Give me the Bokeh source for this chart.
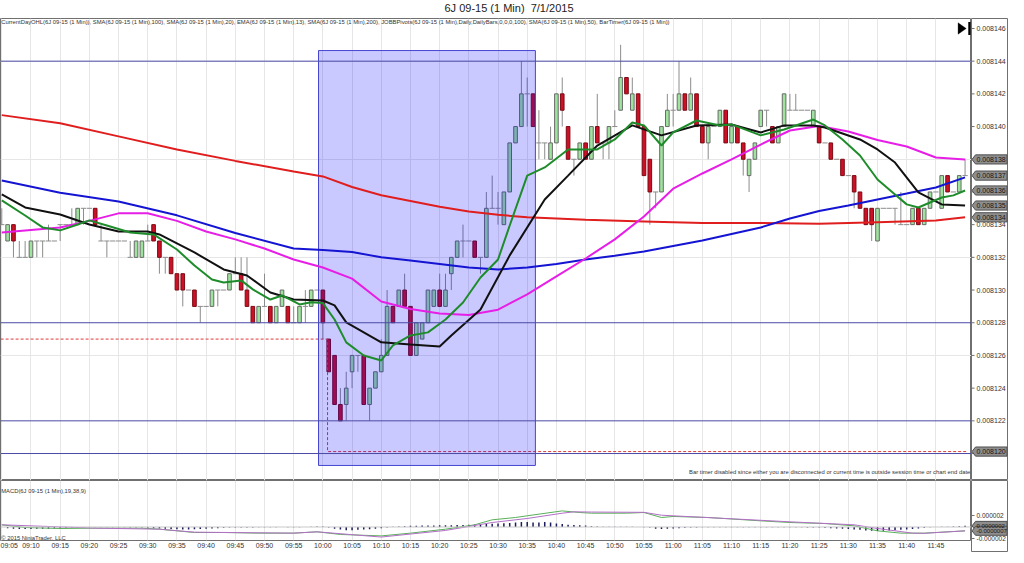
from bokeh.plotting import figure
from bokeh.models import (Range1d, FixedTicker, Label, PolyAnnotation, BoxAnnotation, Span, Div)
from bokeh.layouts import column, row
from bokeh.embed import file_html
from bokeh.resources import INLINE
from bokeh.core.properties import value

FONT = "Liberation Sans"

# ---------------------------------------------------------------- data
# prices are 0.0081xx; values below are in units of 0.000001 above BASE
BASE = 0.0081
UNIT = 1e-6

time_labels = ["09:05", "09:10", "09:15", "09:20", "09:25", "09:30", "09:35", "09:40",
               "09:45", "09:50", "09:55", "10:00", "10:05", "10:10", "10:15", "10:20",
               "10:25", "10:30", "10:35", "10:40", "10:45", "10:50", "10:55", "11:00",
               "11:05", "11:10", "11:15", "11:20", "11:25", "11:30", "11:35", "11:40", "11:45"]

open_u = [34, 33, 34, 32, 32, 32, 33, 33, 33, 33,
          34, 34, 34, 34, 35, 35, 35, 33, 33, 33,
          33, 33, 32, 32, 32, 33, 34, 33, 32, 32,
          31, 31, 30, 30, 29, 29, 29, 30, 30, 30,
          31, 31, 30, 29, 28, 29, 29, 28, 29, 29,
          28, 28, 29, 29, 30, 30, 27, 26, 23, 23,
          25, 26, 26, 23, 24, 25, 26, 29, 29, 30,
          29, 26, 27, 28, 29, 30, 29, 31, 32, 33,
          33, 33, 32, 32, 35, 35, 34, 36, 39, 40,
          42, 42, 39, 39, 38, 39, 42, 40, 38, 38,
          39, 38, 40, 39, 39, 40, 41, 43, 41, 42,
          40, 38, 36, 36, 40, 41, 41, 42, 41, 42,
          40, 39, 40, 40, 41, 39, 40, 39, 37, 38,
          40, 41, 40, 39, 40, 41, 41, 41, 41, 40,
          40, 39, 39, 38, 38, 37, 37, 36, 35, 35,
          33, 35, 35, 35, 34, 34, 34, 35, 34, 35,
          36, 35, 37, 36, 36, 37]
high_u = [35, 34, 34, 33, 33, 33, 33, 33, 34, 33,
          34, 34, 35, 35, 35, 35, 35, 34, 33, 33,
          33, 33, 33, 33, 33, 34, 34, 33, 32, 32,
          31, 31, 30, 30, 29, 29, 30, 30, 30, 31,
          32, 32, 32, 29, 29, 31, 29, 29, 30, 29,
          29, 29, 30, 30, 30, 30, 27, 26, 24, 25,
          26, 26, 26, 24, 25, 27, 30, 29, 30, 31,
          29, 28, 28, 30, 30, 31, 31, 32, 33, 34,
          33, 33, 32, 36, 37, 36, 36, 39, 40, 44,
          43, 42, 41, 39, 40, 42, 43, 40, 38, 39,
          39, 40, 42, 39, 40, 41, 45, 43, 43, 42,
          40, 38, 36, 40, 42, 42, 44, 42, 43, 42,
          40, 40, 40, 41, 41, 40, 40, 39, 38, 39,
          41, 41, 40, 40, 42, 42, 42, 41, 41, 41,
          40, 39, 39, 38, 38, 37, 37, 36, 35, 35,
          35, 35, 35, 35, 36, 34, 35, 35, 35, 36,
          36, 37, 37, 36, 37, 38]
low_u = [34, 33, 32, 32, 32, 32, 32, 32, 33, 33,
         33, 34, 34, 34, 34, 35, 34, 33, 32, 33,
         33, 33, 32, 32, 32, 33, 33, 31, 31, 31,
         30, 29, 30, 29, 28, 29, 29, 29, 30, 30,
         31, 30, 29, 28, 28, 29, 28, 28, 29, 28,
         28, 28, 28, 29, 30, 27, 25, 23, 22, 22,
         24, 25, 23, 22, 24, 25, 26, 28, 29, 29,
         26, 26, 27, 28, 29, 29, 29, 30, 32, 32,
         33, 32, 31, 32, 35, 34, 34, 36, 39, 40,
         40, 40, 38, 38, 38, 39, 40, 38, 37, 38,
         38, 38, 39, 38, 38, 40, 41, 42, 41, 40,
         37, 34, 35, 36, 40, 40, 41, 41, 41, 40,
         39, 38, 40, 40, 39, 39, 39, 37, 36, 38,
         40, 40, 39, 39, 40, 41, 41, 41, 41, 40,
         39, 39, 38, 38, 37, 37, 35, 35, 34, 33,
         33, 35, 35, 34, 34, 34, 34, 34, 34, 35,
         36, 35, 36, 36, 36, 37]
close_u = [34, 34, 33, 32, 32, 33, 33, 33, 33, 33,
           34, 34, 34, 35, 35, 35, 34, 33, 33, 33,
           33, 33, 32, 33, 33, 33, 33, 32, 32, 31,
           30, 30, 30, 29, 29, 29, 30, 30, 30, 31,
           31, 30, 29, 28, 29, 29, 28, 29, 30, 28,
           28, 29, 29, 30, 30, 28, 25, 23, 22, 24,
           26, 26, 23, 24, 25, 26, 29, 28, 30, 29,
           26, 28, 28, 30, 30, 29, 30, 32, 33, 33,
           33, 32, 32, 35, 35, 35, 36, 39, 40, 42,
           42, 40, 39, 39, 39, 42, 41, 38, 38, 39,
           38, 40, 39, 39, 40, 40, 43, 42, 42, 40,
           37, 36, 36, 40, 41, 41, 42, 41, 42, 40,
           39, 40, 40, 41, 39, 40, 39, 38, 38, 39,
           41, 41, 39, 40, 42, 41, 41, 41, 41, 41,
           39, 39, 38, 38, 37, 37, 36, 35, 34, 34,
           35, 35, 35, 35, 34, 34, 35, 34, 35, 36,
           36, 37, 36, 36, 37, 37]

# moving averages (bar index, level)
sma200_x = [0, 10, 20, 30, 40, 50, 55, 60, 65, 70, 75, 80, 85, 90, 100, 110, 120, 130, 140, 150, 160, 165]
sma200_u = [40.7, 40.2, 39.4, 38.6, 37.9, 37.25, 36.95, 36.3, 35.8, 35.45, 35.1, 34.8, 34.6, 34.45,
            34.3, 34.2, 34.1, 34.1, 34.05, 34.15, 34.25, 34.45]
sma100_x = [0, 10, 20, 30, 40, 50, 55, 60, 65, 70, 75, 80, 85, 90, 95, 100, 105, 110, 115, 120,
            125, 130, 135, 140, 145, 150, 155, 160, 165]
sma100_u = [36.7, 35.95, 35.42, 34.57, 33.49, 32.54, 32.45, 32.33, 32.0, 31.8, 31.6, 31.38, 31.26,
            31.38, 31.6, 31.87, 32.1, 32.36, 32.7, 33.03, 33.43, 33.83, 34.38, 34.84, 35.17, 35.54,
            35.9, 36.27, 36.89]
sma50_x = [0, 5, 10, 15, 20, 25, 30, 35, 40, 45, 50, 55, 60, 65, 70, 75, 80, 85, 90, 95, 100,
           105, 110, 115, 120, 125, 130, 135, 140, 145, 150, 155, 160, 165]
sma50_u = [33.52, 33.68, 33.83, 34.23, 34.69, 34.70, 34.23, 33.58, 33.1, 32.54, 31.87, 31.38, 30.7,
           29.3, 28.84, 28.57, 28.48, 28.8, 29.73, 30.83, 31.93, 33.1, 34.5, 36.2, 37.13, 37.99,
           38.9, 39.76, 40.04, 39.7, 39.18, 38.78, 38.11, 37.99]
sma20_x = [0, 4, 10, 15, 20, 25, 27, 33, 38, 42, 46, 50, 55, 57, 59, 65, 70, 75, 77, 82, 87, 93,
           97, 102, 108, 113, 119, 125, 130, 134, 139, 141, 147, 150, 153, 157, 161, 165]
sma20_u = [35.85, 35.05, 34.62, 34.01, 33.58, 33.58, 33.4, 32.3, 31.26, 30.89, 29.85, 29.42, 29.36,
           29.06, 28.02, 26.8, 26.67, 26.55, 27.22, 28.81, 32.12, 35.54, 37.0, 38.84, 40.07, 39.46,
           40.07, 40.13, 39.64, 40.07, 40.07, 39.94, 39.21, 38.6, 37.8, 35.97, 35.24, 35.17]
ema13_x = [0, 4, 7, 10, 13, 15, 18, 22, 26, 30, 33, 36, 38, 41, 43, 46, 48, 51, 53, 55, 57, 59,
           62, 65, 67, 70, 73, 76, 79, 82, 85, 87, 90, 93, 97, 102, 105, 108, 110, 113, 115, 119,
           123, 125, 130, 134, 139, 141, 144, 147, 150, 153, 155, 157, 161, 163, 165]
ema13_u = [35.48, 34.56, 33.83, 33.65, 34.01, 34.26, 33.95, 33.52, 33.4, 32.48, 31.5, 30.64, 30.46,
           30.59, 30.04, 29.42, 29.67, 29.12, 29.25, 29.2, 28.2, 26.8, 26.0, 25.69, 26.61, 27.22,
           27.41, 28.2, 29.24, 30.77, 31.87, 33.95, 37.0, 37.5, 38.6, 38.6, 39.21, 40.25, 40.07,
           38.84, 39.64, 40.37, 40.07, 40.13, 39.46, 39.82, 40.43, 40.07, 39.21, 38.23, 36.76,
           35.85, 35.24, 35.05, 35.66, 35.79, 36.09]

# JOBB pivot levels and current-day low (CurrentDayOHL)
pivot_u = [44, 28, 22, 20]
daylow_x = [-0.2, 55.8, 55.8, 165.5]
daylow_u = [27.0, 27.0, 20.12, 20.12]

# drawn rectangle (bar index / level)
rect_x = [54.25, 91.4]
rect_u = [19.27, 44.65]

# MACD(19,38,9) in units of 0.000001
macd_x = [0, 4, 10, 16, 24, 27, 33, 38, 44, 50, 54, 58, 65, 70, 76, 81, 84, 88, 90, 96, 99, 101,
          107, 110, 113, 115, 121, 130, 135, 141, 146, 150, 154, 158, 165]
macd_v = [0.38, -0.09, -0.26, -0.2, -0.2, -0.38, -0.96, -0.96, -1.07, -1.07, -0.84, -1.3, -1.55,
          -1.07, -0.38, 0.38, 1.25, 1.65, 1.95, 2.8, 2.52, 2.4, 2.4, 2.52, 1.65, 1.83, 1.65, 1.07,
          0.78, 0.6, 0.2, -0.67, -1.07, -1.07, -0.67]
signal_x = [0, 16, 27, 33, 50, 54, 65, 76, 84, 90, 96, 98, 101, 110, 113, 124, 135, 146, 150, 156, 158, 165]
signal_v = [0.38, -0.2, -0.38, -0.9, -1.07, -0.84, -1.75, -0.6, 0.78, 1.48, 2.4, 2.64, 2.6, 2.55,
            2.05, 1.48, 0.9, 0.38, -0.26, -1.07, -1.1, -0.67]
hist_v = [0.0, -0.2, -0.3, -0.35, -0.35, -0.35, -0.3, -0.3, -0.3, -0.25,
          -0.25, -0.2, -0.15, -0.1, -0.1, -0.05, -0.05, -0.05, -0.05, -0.05,
          -0.05, -0.05, -0.1, -0.1, -0.1, -0.15, -0.2, -0.25, -0.3, -0.35,
          -0.4, -0.45, -0.45, -0.4, -0.35, -0.3, -0.25, -0.2, -0.15, -0.1,
          -0.1, -0.1, -0.1, -0.1, -0.05, -0.05, -0.05, -0.05, 0.0, -0.05,
          -0.05, -0.05, 0.0, 0.05, 0.1, 0.1, -0.1, -0.3, -0.45, -0.55,
          -0.55, -0.5, -0.45, -0.4, -0.3, -0.2, -0.1, 0.05, 0.1, 0.15,
          0.2, 0.2, 0.25, 0.25, 0.25, 0.3, 0.3, 0.3, 0.35, 0.35,
          0.4, 0.45, 0.45, 0.55, 0.55, 0.6, 0.65, 0.7, 0.8, 0.85,
          0.85, 0.8, 0.8, 0.85, 0.8, 0.6, 0.5, 0.4, 0.35, 0.3,
          0.25, 0.15, 0.1, 0.05, 0.05, 0.05, 0.05, 0.05, 0.05, 0.0,
          -0.05, -0.1, -0.3, -0.35, -0.3, -0.25, -0.2, -0.15, -0.1, -0.1,
          -0.05, -0.05, -0.05, -0.05, -0.05, -0.05, -0.05, -0.05, -0.05, -0.05,
          -0.05, -0.05, -0.05, -0.05, -0.05, -0.05, -0.05, -0.05, -0.1, -0.1,
          -0.1, -0.15, -0.2, -0.25, -0.3, -0.35, -0.45, -0.5, -0.6, -0.65,
          -0.7, -0.65, -0.6, -0.55, -0.5, -0.45, -0.35, -0.25, -0.15, -0.05,
          0.0, 0.05, 0.05, 0.1, 0.15, 0.2]
hist_tag = 0.2

price_ticks_u = [20, 22, 24, 26, 28, 30, 32, 34, 36, 38, 40, 42, 44, 46]
macd_ticks = [2, -2]

title_text = "6J 09-15 (1 Min)&nbsp;&nbsp;7/1/2015"
indicator_text = ("CurrentDayOHL(6J 09-15 (1 Min)), SMA(6J 09-15 (1 Min),100), SMA(6J 09-15 (1 Min),20), "
                  "EMA(6J 09-15 (1 Min),13), SMA(6J 09-15 (1 Min),200), JOBBPivots(6J 09-15 (1 Min),Daily,"
                  "DailyBars,0,0,0,100), SMA(6J 09-15 (1 Min),50), BarTimer(6J 09-15 (1 Min))")
timer_text = ("Bar timer disabled since either you are disconnected or current time is outside "
              "session time or chart end date")


def P(v):
    return BASE + v * UNIT


def M(v):
    return v * UNIT


# ---------------------------------------------------------------- layout constants
FW = 971          # width of the chart frames
AW = 37           # width of the price-axis strip
FH_MAIN = 462
FH_MACD = 60
BOTTOM = 12
xr = Range1d(-0.22, 166.1)
tick_pos = [5 * k for k in range(len(time_labels))]
GRID = "#e6e6e6"
FRAME = "#707070"
TXT = "#333333"
TAG_FILL = "#8e8e8e"

title = Div(text=title_text, width=FW + AW, height=7,
            styles={"text-align": "center", "font-size": "11px", "font-family": FONT,
                    "line-height": "7px", "color": "#222222", "overflow": "visible"})

# ---------------------------------------------------------------- price panel
yr_main = Range1d(P(18.35), P(46.61))
pa = figure(frame_width=FW, frame_height=FH_MAIN, x_range=xr, y_range=yr_main,
            output_backend="svg", toolbar_location=None,
            y_axis_location=None, x_axis_location=None,
            min_border_left=0, min_border_right=0, min_border_top=1, min_border_bottom=0)
pa.outline_line_color = FRAME
pa.xgrid.ticker = FixedTicker(ticks=tick_pos)
pa.xgrid.grid_line_color = GRID
pa.ygrid.ticker = FixedTicker(ticks=[P(v) for v in (20, 26, 32, 38, 44)])
pa.ygrid.grid_line_color = GRID

for v in pivot_u:
    pa.add_layout(Span(location=P(v), dimension="width", line_color="#4b4ba6", line_width=1))

n = len(open_u)
idx = list(range(n))
wk = [i for i in idx if high_u[i] > low_u[i]]
pa.segment(x0=wk, y0=[P(low_u[i]) for i in wk], x1=wk, y1=[P(high_u[i]) for i in wk],
           line_color="#8c8c8c", line_width=1)
up = [i for i in idx if close_u[i] > open_u[i]]
pa.vbar(x=up, width=0.62, bottom=[P(open_u[i]) for i in up], top=[P(close_u[i]) for i in up],
        fill_color="#9ee39e", line_color="#6a6a6a", line_width=1)
dn = [i for i in idx if close_u[i] < open_u[i]]
pa.vbar(x=dn, width=0.62, top=[P(open_u[i]) for i in dn], bottom=[P(close_u[i]) for i in dn],
        fill_color="#cc1025", line_color="#7a0a14", line_width=1)
dj = [i for i in idx if close_u[i] == open_u[i]]
pa.segment(x0=[i - 0.45 for i in dj], y0=[P(close_u[i]) for i in dj],
           x1=[i + 0.45 for i in dj], y1=[P(close_u[i]) for i in dj],
           line_color="#8c8c8c", line_width=1)

pa.line(daylow_x, [P(v) for v in daylow_u], line_color="#e03a3a", line_width=1, line_dash="3 2")

pa.quad(left=[rect_x[0]], right=[rect_x[1]], bottom=[P(rect_u[0])], top=[P(rect_u[1])],
        fill_color="#0000ff", fill_alpha=0.21, line_color="#4646d2", line_width=1)

pa.line(sma200_x, [P(v) for v in sma200_u], line_color="#e01e1e", line_width=2)
pa.line(sma100_x, [P(v) for v in sma100_u], line_color="#1414d2", line_width=2)
pa.line(sma50_x, [P(v) for v in sma50_u], line_color="#e61ee6", line_width=2)
pa.line(sma20_x, [P(v) for v in sma20_u], line_color="#111111", line_width=2)
pa.line(ema13_x, [P(v) for v in ema13_u], line_color="#1e8c2a", line_width=2)

pa.add_layout(Label(x=-0.1, y=P(46.37), text=indicator_text, text_font=FONT,
                    text_font_size="5.85px", text_color=TXT, text_baseline="middle"))
pa.add_layout(Label(x=165.9, y=P(18.85), text=timer_text, text_font=FONT,
                    text_font_size="5.85px", text_color=TXT, text_baseline="middle",
                    text_align="right"))

pa.add_layout(PolyAnnotation(xs=[163.8, 163.8, 165.2], ys=[P(46.35), P(45.65), P(46.0)],
                             fill_color="black", fill_alpha=1, line_color="black", line_width=1))
pa.add_layout(BoxAnnotation(left=165.55, right=165.95, bottom=P(45.6), top=P(46.4),
                            fill_color="black", fill_alpha=1, line_color=None))


def axis_strip(y_range, fh, top, bottom, tick_vals, tick_text, tick_size,
               tag_vals, tag_text, tag_size, half_h):
    s = figure(frame_width=AW, frame_height=fh, x_range=Range1d(0, AW), y_range=y_range,
               output_backend="svg", toolbar_location=None,
               x_axis_location=None, y_axis_location=None,
               min_border_left=0, min_border_right=0, min_border_top=top, min_border_bottom=bottom)
    s.grid.visible = False
    s.outline_line_color = FRAME
    s.segment(x0=[0] * len(tick_vals), y0=tick_vals, x1=[3] * len(tick_vals), y1=tick_vals,
              line_color=FRAME, line_width=1)
    s.text(x=[5] * len(tick_vals), y=tick_vals, text=tick_text, text_font=value(FONT),
           text_font_size=tick_size, text_color=TXT, text_baseline="middle")
    xs = [[0.5, 4, AW - 1.5, AW - 1.5, 4] for _ in tag_vals]
    ys = [[v, v + half_h, v + half_h, v - half_h, v - half_h] for v in tag_vals]
    s.patches(xs, ys, fill_color=TAG_FILL, line_color="#505050", line_width=1)
    s.text(x=[5] * len(tag_vals), y=tag_vals, text=tag_text, text_font=value(FONT),
           text_font_size=tag_size, text_color="#151515", text_baseline="middle")
    return s


tags_u = [sma50_u[-1], close_u[-1], ema13_u[-1], sma20_u[-1], sma200_u[-1], daylow_u[-1]]
pa_r = axis_strip(yr_main, FH_MAIN, 1, 0,
                  [P(v) for v in price_ticks_u], ["%.6f" % P(v) for v in price_ticks_u], "7px",
                  [P(v) for v in tags_u], ["%.6f" % P(v) for v in tags_u], "7px", 0.28 * UNIT)

# ---------------------------------------------------------------- MACD panel
MACD_TOP, MACD_BOT = 8.09, -2.35
yr_macd = Range1d(M(MACD_BOT), M(MACD_TOP))
pb = figure(frame_width=FW, frame_height=FH_MACD, x_range=xr, y_range=yr_macd,
            output_backend="svg", toolbar_location=None, y_axis_location=None,
            min_border_left=0, min_border_right=0, min_border_top=0, min_border_bottom=BOTTOM)
pb.outline_line_color = FRAME
pb.xgrid.ticker = FixedTicker(ticks=tick_pos)
pb.xgrid.grid_line_color = GRID
pb.ygrid.grid_line_color = None

xa = pb.xaxis[0]
xa.ticker = FixedTicker(ticks=tick_pos)
xa.major_label_overrides = {t: lab for t, lab in zip(tick_pos, time_labels)}
xa.major_label_text_font = FONT
xa.major_label_text_font_size = "7px"
xa.major_label_text_color = TXT
xa.axis_line_color = None
xa.major_tick_line_color = None
xa.minor_tick_line_color = None
xa.major_tick_out = 0
xa.major_tick_in = 0
xa.major_label_standoff = 1

pb.add_layout(Span(location=0, dimension="width", line_color="#c8c8c8", line_width=1))
hx = list(range(len(hist_v)))
pb.segment(x0=hx, y0=[0] * len(hx), x1=hx, y1=[M(v) for v in hist_v],
           line_color="#1c1c5c", line_width=1.5)
pb.line(macd_x, [M(v) for v in macd_v], line_color="#58b058", line_width=1)
pb.line(signal_x, [M(v) for v in signal_v], line_color="#b46ec8", line_width=1)

pb.add_layout(Label(x=-0.1, y=M(6.35), text="MACD(6J 09-15 (1 Min),19,38,9)", text_font=FONT,
                    text_font_size="5.85px", text_color=TXT, text_baseline="middle"))
pb.add_layout(Label(x=-0.1, y=M(-1.83), text="\u00a9 2015 NinjaTrader, LLC", text_font=FONT,
                    text_font_size="5.85px", text_color=TXT, text_baseline="middle"))

# the axis strip of the MACD panel also spans the time-label row so that its
# lowest label is not cut; its range is extended by the same scale
macd_px_per_unit = FH_MACD / (MACD_TOP - MACD_BOT)
yr_macd_strip = Range1d(M(MACD_BOT - BOTTOM / macd_px_per_unit), M(MACD_TOP))
macd_tags = [hist_tag, macd_v[-1]]
pb_r = axis_strip(yr_macd_strip, FH_MACD + BOTTOM, 0, 0,
                  [M(v) for v in macd_ticks], ["%.6f" % M(v) for v in macd_ticks], "6.5px",
                  [M(v) for v in macd_tags], ["%.7f" % M(v) for v in macd_tags], "6px",
                  0.78 * UNIT)

layout = column(title, row(pa, pa_r), row(pb, pb_r))
open("out.html", "w").write(file_html(layout, INLINE))
